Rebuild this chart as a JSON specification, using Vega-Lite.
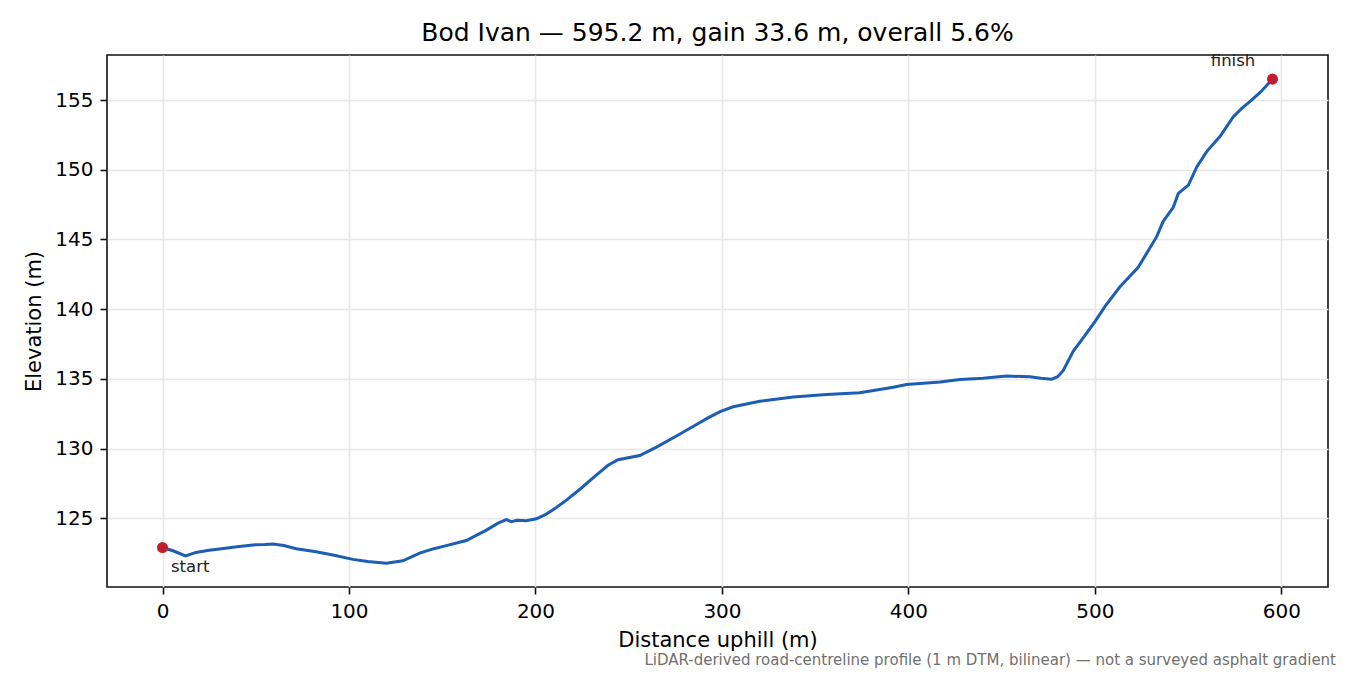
{
  "$schema": "https://vega.github.io/schema/vega-lite/v6.json",
  "autosize": "none",
  "width": 1221,
  "height": 532,
  "padding": {"left": 107, "top": 55, "right": 22, "bottom": 88},
  "background": "white",
  "config": {
    "font": "DejaVu Sans",
    "view": {"stroke": "#111111", "strokeWidth": 1.6},
    "axis": {
      "labelFont": "DejaVu Sans",
      "titleFont": "DejaVu Sans",
      "labelFontSize": 20,
      "titleFontSize": 21,
      "labelColor": "#000000",
      "titleColor": "#000000",
      "titleFontWeight": "normal",
      "domain": false,
      "tickColor": "#111111",
      "tickSize": 7,
      "tickWidth": 1.6,
      "labelPadding": 7,
      "gridColor": "#e7e7e7",
      "gridWidth": 1.6
    }
  },
  "title": {
    "text": "Bod Ivan — 595.2 m, gain 33.6 m, overall 5.6%",
    "font": "DejaVu Sans",
    "fontSize": 25,
    "fontWeight": "normal",
    "color": "#000000",
    "offset": 7
  },
  "datasets": {
    "profile": [
      {"d": 0, "e": 122.9},
      {"d": 6, "e": 122.65},
      {"d": 12.3, "e": 122.3},
      {"d": 18, "e": 122.55},
      {"d": 25, "e": 122.7},
      {"d": 30.6, "e": 122.8},
      {"d": 40, "e": 122.95},
      {"d": 48.5, "e": 123.09},
      {"d": 55, "e": 123.12},
      {"d": 59.2, "e": 123.16},
      {"d": 65, "e": 123.05},
      {"d": 71.7, "e": 122.82},
      {"d": 82.4, "e": 122.6},
      {"d": 92, "e": 122.35},
      {"d": 102.1, "e": 122.05},
      {"d": 110, "e": 121.9},
      {"d": 120, "e": 121.77},
      {"d": 128.9, "e": 121.95},
      {"d": 137.9, "e": 122.5},
      {"d": 145, "e": 122.8},
      {"d": 152.2, "e": 123.04},
      {"d": 162.9, "e": 123.4},
      {"d": 168, "e": 123.75},
      {"d": 173.7, "e": 124.15},
      {"d": 179.9, "e": 124.65},
      {"d": 184.4, "e": 124.9},
      {"d": 187.1, "e": 124.76},
      {"d": 190, "e": 124.85},
      {"d": 195.1, "e": 124.83},
      {"d": 200.5, "e": 124.96},
      {"d": 205.8, "e": 125.3},
      {"d": 211, "e": 125.75},
      {"d": 216.6, "e": 126.3},
      {"d": 224, "e": 127.1},
      {"d": 231.8, "e": 128.0},
      {"d": 238.9, "e": 128.8},
      {"d": 244.3, "e": 129.2},
      {"d": 255.9, "e": 129.5},
      {"d": 264.9, "e": 130.1},
      {"d": 275.6, "e": 130.9},
      {"d": 284, "e": 131.55},
      {"d": 292.5, "e": 132.2},
      {"d": 299, "e": 132.65},
      {"d": 306, "e": 133.0},
      {"d": 320.3, "e": 133.4},
      {"d": 338.2, "e": 133.7},
      {"d": 356.1, "e": 133.87},
      {"d": 373.9, "e": 134.0},
      {"d": 391.8, "e": 134.4},
      {"d": 399, "e": 134.6},
      {"d": 417, "e": 134.78},
      {"d": 427.6, "e": 134.95},
      {"d": 440, "e": 135.05},
      {"d": 452.6, "e": 135.2},
      {"d": 465.1, "e": 135.15},
      {"d": 471, "e": 135.05},
      {"d": 476.8, "e": 134.98},
      {"d": 480, "e": 135.15},
      {"d": 483, "e": 135.6},
      {"d": 488.4, "e": 137.0},
      {"d": 492.9, "e": 137.8},
      {"d": 500, "e": 139.1},
      {"d": 505.4, "e": 140.2},
      {"d": 513.4, "e": 141.6},
      {"d": 523.2, "e": 143.0},
      {"d": 533.1, "e": 145.2},
      {"d": 536.6, "e": 146.3},
      {"d": 542, "e": 147.3},
      {"d": 544.7, "e": 148.3},
      {"d": 550.1, "e": 148.9},
      {"d": 554.6, "e": 150.2},
      {"d": 559.9, "e": 151.3},
      {"d": 567.1, "e": 152.4},
      {"d": 574.2, "e": 153.8},
      {"d": 578.7, "e": 154.4},
      {"d": 583.2, "e": 154.9},
      {"d": 589, "e": 155.6},
      {"d": 595.2, "e": 156.5}
    ],
    "ends": [
      {"d": 0, "e": 122.9, "label": "start"},
      {"d": 595.2, "e": 156.5, "label": "finish"}
    ],
    "note": [
      {"d": 624.96, "e": 120.07, "label": "LiDAR-derived road-centreline profile (1 m DTM, bilinear) — not a surveyed asphalt gradient"}
    ]
  },
  "encoding": {
    "x": {
      "field": "d",
      "type": "quantitative",
      "scale": {"domain": [-29.76, 624.96], "nice": false, "zero": false},
      "axis": {"title": "Distance uphill (m)", "values": [0, 100, 200, 300, 400, 500, 600], "titlePadding": 8}
    },
    "y": {
      "field": "e",
      "type": "quantitative",
      "scale": {"domain": [120.07, 158.23], "nice": false, "zero": false},
      "axis": {"title": "Elevation (m)", "values": [125, 130, 135, 140, 145, 150, 155], "titlePadding": 10}
    }
  },
  "layer": [
    {
      "data": {"name": "profile"},
      "mark": {"type": "line", "color": "#1b5eb4", "strokeWidth": 3, "clip": true}
    },
    {
      "data": {"name": "ends"},
      "mark": {"type": "circle", "color": "#c11f2d", "size": 123, "opacity": 1}
    },
    {
      "data": {"name": "ends"},
      "transform": [{"filter": "datum.label == 'start'"}],
      "mark": {"type": "text", "align": "left", "baseline": "alphabetic", "dx": 8.5, "dy": 24, "fontSize": 16.5, "color": "#222222"},
      "encoding": {"text": {"field": "label"}}
    },
    {
      "data": {"name": "ends"},
      "transform": [{"filter": "datum.label == 'finish'"}],
      "mark": {"type": "text", "align": "center", "baseline": "alphabetic", "dx": -39.5, "dy": -13.3, "fontSize": 16.5, "color": "#222222"},
      "encoding": {"text": {"field": "label"}}
    },
    {
      "data": {"name": "note"},
      "mark": {"type": "text", "align": "right", "baseline": "middle", "dx": 8, "dy": 73, "fontSize": 15, "color": "#707070", "clip": false},
      "encoding": {"text": {"field": "label"}}
    }
  ]
}
